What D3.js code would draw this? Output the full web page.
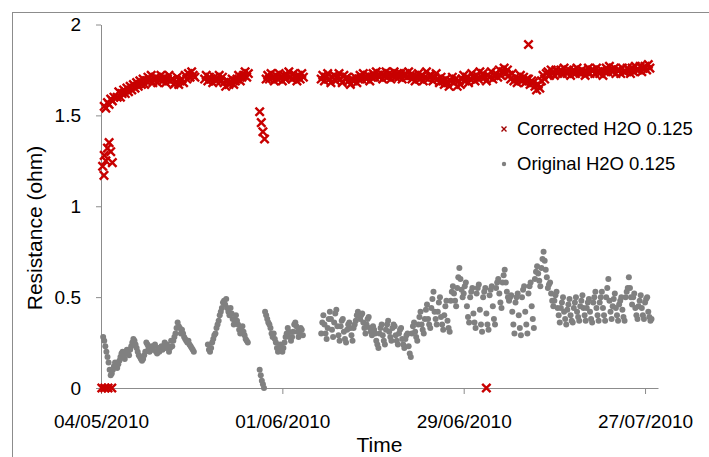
<!DOCTYPE html>
<html>
<head>
<meta charset="utf-8">
<script src="https://cdnjs.cloudflare.com/ajax/libs/d3/7.8.5/d3.min.js"></script>
<style>
  body { margin: 0; background: #fff; }
  svg { display: block; font-family: "Liberation Sans", Arial, sans-serif; }
</style>
</head>
<body>
<svg id="chart"></svg>
<script>
// times counted in hours from 04/05/2010 00:00
const startDay = new Date(2010, 4, 4);
const endHours = 86 * 24;

const xTickLabels = ["04/05/2010", "01/06/2010", "29/06/2010", "27/07/2010"];
const yTicks = [0, 0.5, 1, 1.5, 2];

// Corrected H2O 0.125 (red x): one reading every 6 h, runs split at gaps
const corrStep = 6;
const corrStarts = [6, 12, 60, 384, 588, 612, 816];
const corrRun1 = [1.22, 1.28, 1.25, 1.32, 1.35, 1.3, 1.24];
const corrRun2 = [1.55, 1.54, 1.57, 1.56, 1.59, 1.58, 1.6];
const corrRun3 = [
  1.6, 1.63, 1.6, 1.62, 1.64, 1.62, 1.65, 1.63, 1.66, 1.64, 1.67, 1.65,
  1.68, 1.66, 1.69, 1.67, 1.7, 1.67, 1.69, 1.71, 1.69, 1.72, 1.68, 1.7,
  1.71, 1.68, 1.7, 1.72, 1.69, 1.71, 1.68, 1.7, 1.72, 1.69, 1.7, 1.67,
  1.68, 1.71, 1.67, 1.69, 1.7, 1.68, 1.72, 1.7, 1.73, 1.71, 1.74, 1.72, 1.71];
const corrRun4 = [
  1.7, 1.72, 1.69, 1.71, 1.7, 1.68, 1.71, 1.69, 1.7, 1.72, 1.69, 1.71,
  1.68, 1.66, 1.69, 1.67, 1.68, 1.7, 1.67, 1.69, 1.7, 1.72, 1.69, 1.71,
  1.72, 1.74, 1.71, 1.73];
const corrRun5 = [1.52, 1.46, 1.41, 1.37];
const corrRun6 = [
  1.7, 1.72, 1.7, 1.73, 1.71, 1.69, 1.72, 1.7, 1.73, 1.71, 1.69, 1.72,
  1.7, 1.72, 1.74, 1.71, 1.7, 1.73, 1.71, 1.69, 1.72, 1.7, 1.73, 1.71];
const corrRun7 = [
  1.7, 1.72, 1.69, 1.71, 1.73, 1.7, 1.68, 1.71, 1.72, 1.69, 1.71, 1.73,
  1.7, 1.68, 1.72, 1.7, 1.71, 1.69, 1.67, 1.7, 1.69, 1.71, 1.68, 1.7,
  1.72, 1.7, 1.73, 1.71, 1.7, 1.72, 1.69, 1.71, 1.73, 1.71, 1.74, 1.72,
  1.71, 1.73, 1.7, 1.72, 1.74, 1.71, 1.73, 1.7, 1.72, 1.74, 1.71, 1.73,
  1.71, 1.73, 1.7, 1.72, 1.73, 1.71, 1.74, 1.72, 1.7, 1.72, 1.69, 1.71,
  1.73, 1.7, 1.72, 1.69, 1.71, 1.74, 1.7, 1.72, 1.72, 1.69, 1.71, 1.73,
  1.7, 1.68, 1.71, 1.69, 1.67, 1.7, 1.68, 1.66, 1.69, 1.71, 1.68, 1.7,
  1.66, 1.69, 1.67, 1.7, 1.72, 1.69, 1.71, 1.68, 1.7, 1.73, 1.71, 1.69,
  1.72, 1.7, 1.74, 1.71, 1.73, 1.71, 1.69, 1.72, 1.71, 1.74, 1.7, 1.72,
  1.73, 1.71, 1.75, 1.72, 1.74, 1.76, 1.73, 1.75, 1.72, 1.7, 1.73, 1.69,
  1.71, 1.68, 1.7, 1.72, 1.69, 1.71, 1.68, 1.7, 1.7, 1.67, 1.69, 1.68,
  1.66, 1.64, 1.67, 1.65, 1.69, 1.72, 1.7, 1.73, 1.74, 1.72, 1.75, 1.73,
  1.72, 1.75, 1.73, 1.74, 1.75, 1.73, 1.76, 1.74, 1.73, 1.75, 1.72, 1.74,
  1.75, 1.73, 1.76, 1.74, 1.73, 1.75, 1.74, 1.72, 1.74, 1.76, 1.73, 1.75,
  1.75, 1.73, 1.76, 1.74, 1.73, 1.75, 1.72, 1.74, 1.76, 1.74, 1.77, 1.75,
  1.74, 1.76, 1.73, 1.75, 1.75, 1.73, 1.76, 1.74, 1.74, 1.76, 1.75, 1.73,
  1.76, 1.74, 1.77, 1.75, 1.75, 1.77, 1.74, 1.76, 1.77, 1.75, 1.78, 1.76];
// [hour, value] single readings
const corrOutliers = [
  [3, 0], [14, 0], [26, 0], [40, 0], [11, 1.17], [1428, 0], [1584, 1.89]];

// Original H2O 0.125 (grey dots): one reading every 4 h
const origStep = 4;
const origStarts = [8, 396, 588, 816];
const origRun1 = [
  0.28, 0.26, 0.23, 0.2,
  0.17, 0.14, 0.1, 0.07, 0.08, 0.1,
  0.12, 0.14, 0.13, 0.11, 0.13, 0.15,
  0.17, 0.19, 0.2, 0.17, 0.16, 0.19,
  0.21, 0.19, 0.18, 0.21, 0.23, 0.25,
  0.27, 0.26, 0.24, 0.22, 0.2, 0.18,
  0.17, 0.16, 0.15, 0.16, 0.18, 0.2,
  0.25, 0.24, 0.22, 0.2, 0.21, 0.23,
  0.21, 0.23, 0.24, 0.2, 0.19, 0.22,
  0.2, 0.22, 0.23, 0.21, 0.23, 0.25,
  0.22, 0.24, 0.23, 0.2, 0.22, 0.26,
  0.23, 0.26, 0.28, 0.3, 0.33, 0.36,
  0.34, 0.33, 0.3, 0.32, 0.3, 0.28,
  0.27, 0.26, 0.25, 0.26, 0.24, 0.23,
  0.22, 0.21, 0.2];
const origRun2 = [
  0.24, 0.21, 0.2,
  0.22, 0.25, 0.27, 0.29, 0.3, 0.33,
  0.35, 0.37, 0.4, 0.42, 0.44, 0.47,
  0.48, 0.46, 0.49, 0.44, 0.42, 0.4,
  0.44, 0.41, 0.38, 0.35, 0.37, 0.4,
  0.37, 0.35, 0.32, 0.3, 0.32, 0.34,
  0.31, 0.29, 0.27, 0.26, 0.25];
const origRun3 = [
  0.1, 0.07, 0.04,
  0.02, 0.0, 0.42, 0.4, 0.38, 0.36,
  0.35, 0.33, 0.3, 0.28, 0.3, 0.27,
  0.25, 0.22, 0.2, 0.22, 0.24, 0.21,
  0.2, 0.22, 0.25, 0.28, 0.3, 0.33,
  0.31, 0.28, 0.26, 0.28, 0.31, 0.35,
  0.36, 0.34, 0.31, 0.28, 0.3, 0.33,
  0.32, 0.29];
const origRun4 = [
  0.3, 0.36, 0.4, 0.35, 0.3, 0.27,
  0.33, 0.38, 0.42, 0.38, 0.32, 0.28,
  0.36, 0.41, 0.43, 0.34, 0.29, 0.26,
  0.34, 0.37, 0.38, 0.31, 0.27, 0.25,
  0.32, 0.35, 0.36, 0.33, 0.29, 0.26,
  0.33, 0.35, 0.37, 0.4, 0.42, 0.4,
  0.38, 0.4, 0.41, 0.36, 0.33, 0.3,
  0.35, 0.38, 0.39, 0.33, 0.31, 0.29,
  0.34, 0.32, 0.3, 0.26, 0.24, 0.22,
  0.3, 0.33, 0.35, 0.29, 0.26, 0.24,
  0.32, 0.35, 0.37, 0.31, 0.28, 0.26,
  0.33, 0.35, 0.34, 0.29, 0.26, 0.24,
  0.3, 0.32, 0.33, 0.27, 0.24, 0.22,
  0.27, 0.29, 0.3, 0.23, 0.19, 0.17,
  0.3, 0.34, 0.36, 0.31, 0.28, 0.26,
  0.35, 0.39, 0.42, 0.35, 0.32, 0.3,
  0.38, 0.43, 0.46, 0.38, 0.35, 0.33,
  0.44, 0.49, 0.53, 0.42, 0.38, 0.35,
  0.42, 0.47, 0.5, 0.39, 0.35, 0.32,
  0.4, 0.45, 0.48, 0.37, 0.33, 0.31,
  0.48, 0.53, 0.56, 0.52, 0.48, 0.45,
  0.55, 0.61, 0.66, 0.6, 0.54, 0.5,
  0.52, 0.56, 0.58, 0.45, 0.39, 0.36,
  0.5, 0.53, 0.55, 0.41, 0.36, 0.33,
  0.52, 0.55, 0.57, 0.43, 0.35, 0.31,
  0.5, 0.53, 0.55, 0.41, 0.35, 0.32,
  0.51, 0.54, 0.56, 0.45, 0.38, 0.35,
  0.55, 0.58, 0.6, 0.52, 0.47, 0.44,
  0.58, 0.62, 0.65, 0.58, 0.53, 0.5,
  0.48, 0.5, 0.51, 0.42, 0.35, 0.3,
  0.47, 0.5, 0.52, 0.4, 0.33, 0.29,
  0.5, 0.54, 0.56, 0.42, 0.35, 0.3,
  0.52, 0.56, 0.58, 0.45, 0.38, 0.33,
  0.6, 0.64, 0.67, 0.63, 0.59, 0.56,
  0.66, 0.71, 0.75, 0.7, 0.65, 0.61,
  0.55, 0.57, 0.58, 0.52, 0.48, 0.45,
  0.48, 0.51, 0.53, 0.44, 0.4, 0.36,
  0.44, 0.47, 0.5, 0.42, 0.38, 0.35,
  0.43, 0.46, 0.49, 0.4, 0.37, 0.36,
  0.44, 0.47, 0.5, 0.42, 0.39, 0.37,
  0.45, 0.48, 0.51, 0.44, 0.4, 0.37,
  0.44, 0.47, 0.49, 0.42, 0.38, 0.36,
  0.47, 0.5, 0.53, 0.44, 0.4, 0.37,
  0.47, 0.5, 0.53, 0.44, 0.4, 0.37,
  0.5, 0.55, 0.6, 0.48, 0.42, 0.38,
  0.45, 0.49, 0.52, 0.44, 0.4, 0.37,
  0.46, 0.48, 0.5, 0.43, 0.39, 0.37,
  0.5, 0.53, 0.55, 0.61, 0.55, 0.5,
  0.46, 0.5, 0.52, 0.44, 0.4, 0.38,
  0.45, 0.48, 0.51, 0.44, 0.4, 0.38,
  0.47, 0.49, 0.5, 0.42, 0.39, 0.37,
  0.38];

const width = 709, height = 457;
const plot = { left: 101, right: 658, top: 24.5, bottom: 388 };

const hourToDate = h => d3.timeHour.offset(startDay, h);
const parseTick = d3.timeParse("%d/%m/%Y");

function runsToPoints(starts, runs, step) {
  const pts = [];
  runs.forEach((vals, r) => {
    vals.forEach((v, i) => pts.push({ t: hourToDate(starts[r] + i * step), v: v }));
  });
  return pts;
}

const corrPoints = runsToPoints(corrStarts,
  [corrRun1, corrRun2, corrRun3, corrRun4, corrRun5, corrRun6, corrRun7], corrStep)
  .concat(corrOutliers.map(d => ({ t: hourToDate(d[0]), v: d[1] })));
const origPoints = runsToPoints(origStarts,
  [origRun1, origRun2, origRun3, origRun4], origStep);

const x = d3.scaleTime()
    .domain([startDay, hourToDate(endHours)])
    .range([plot.left, plot.right]);
const y = d3.scaleLinear()
    .domain([0, 2])
    .range([plot.bottom, plot.top]);

const svg = d3.select("#chart")
    .attr("width", width)
    .attr("height", height);

// chart frame, runs off the right and bottom edge
svg.append("rect")
    .attr("x", 12.5).attr("y", 12.5)
    .attr("width", 730).attr("height", 470)
    .attr("fill", "#fff")
    .attr("stroke", "#8c8c8c");

// axes
const yAxis = svg.append("g")
    .attr("transform", `translate(${plot.left},0)`)
    .call(d3.axisLeft(y).tickValues(yTicks).tickSize(5).tickSizeOuter(0)
      .tickPadding(15).tickFormat(d3.format("~g")));

const xAxis = svg.append("g")
    .attr("transform", `translate(0,${plot.bottom})`)
    .call(d3.axisBottom(x).tickValues(xTickLabels.map(parseTick)).tickSize(6)
      .tickSizeOuter(0).tickPadding(21).tickFormat(d3.timeFormat("%d/%m/%Y")));

[yAxis, xAxis].forEach(g => {
  g.attr("font-family", null).attr("font-size", 19);
  g.selectAll("path, line").attr("stroke", "#8c8c8c");
  g.selectAll("text").attr("fill", "#000");
});

// markers
const xMark = s => `M${-s},${-s}L${s},${s}M${-s},${s}L${s},${-s}`;

svg.append("g")
  .selectAll("path")
  .data(corrPoints)
  .join("path")
    .attr("transform", d => `translate(${x(d.t)},${y(d.v)})`)
    .attr("d", xMark(4.2))
    .attr("fill", "none")
    .attr("stroke", "#c80000")
    .attr("stroke-width", 2.4);

svg.append("g")
  .selectAll("circle")
  .data(origPoints)
  .join("circle")
    .attr("cx", d => x(d.t))
    .attr("cy", d => y(d.v))
    .attr("r", 3)
    .attr("fill", "#808080");

// axis titles
svg.append("text")
    .attr("transform", "translate(42,228) rotate(-90)")
    .attr("text-anchor", "middle")
    .attr("font-size", 21)
    .text("Resistance (ohm)");

svg.append("text")
    .attr("x", (plot.left + plot.right) / 2)
    .attr("y", 452)
    .attr("text-anchor", "middle")
    .attr("font-size", 21)
    .text("Time");

// legend
const legend = svg.append("g").attr("font-size", 18.5);

legend.append("path")
    .attr("transform", "translate(504,129)")
    .attr("d", xMark(2.5))
    .attr("stroke", "#a00000")
    .attr("stroke-width", 1.4);
legend.append("text")
    .attr("x", 517).attr("y", 135)
    .text("Corrected H2O 0.125");

legend.append("circle")
    .attr("cx", 504).attr("cy", 164)
    .attr("r", 2.2)
    .attr("fill", "#808080");
legend.append("text")
    .attr("x", 517).attr("y", 170)
    .text("Original H2O 0.125");
</script>
</body>
</html>
